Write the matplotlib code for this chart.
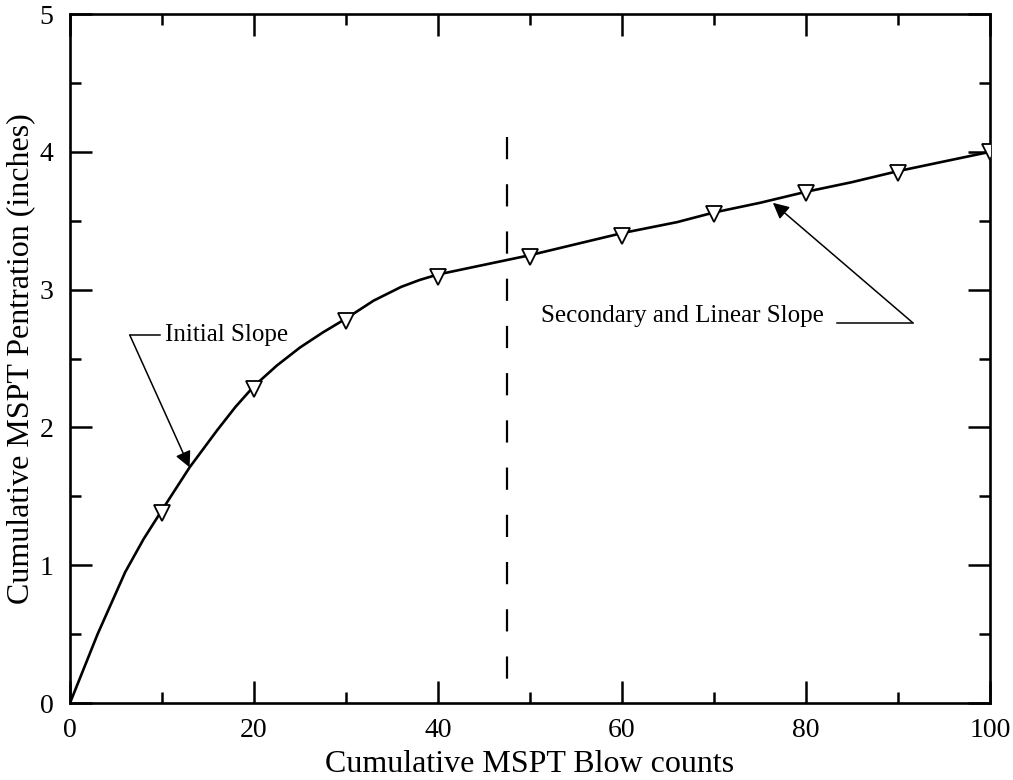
import numpy as np
import matplotlib
matplotlib.use("Agg")
import matplotlib.pyplot as plt
from matplotlib.ticker import MultipleLocator

# curve
blows = [0, 3, 6, 8, 10, 13, 16, 18, 20, 22.5, 25, 27.5, 30, 33, 36, 38, 40, 45, 50,
         55, 60, 66, 70, 75, 80, 85, 90, 95, 100]
penetration = [0, 0.50, 0.95, 1.19, 1.40, 1.71, 1.98, 2.15, 2.30, 2.45, 2.58, 2.69, 2.79,
               2.92, 3.02, 3.07, 3.11, 3.18, 3.25, 3.33, 3.41, 3.49, 3.56, 3.63, 3.71,
               3.78, 3.86, 3.93, 4.0]

# measured points (markers)
marker_blows = [10, 20, 30, 40, 50, 60, 70, 80, 90, 100]
marker_pen = [1.38, 2.28, 2.77, 3.09, 3.24, 3.39, 3.55, 3.70, 3.85, 4.0]

split_x = 47.5
split_top = 4.11

plt.rcParams['font.family'] = ['Liberation Serif', 'DejaVu Serif']
plt.rcParams['lines.scale_dashes'] = False

fig = plt.figure(figsize=(10.13, 7.80), dpi=100)
ax = fig.add_axes([0.0691, 0.0987, 0.9082, 0.8833])

ax.plot(blows, penetration, color='black', lw=1.9, zorder=3)
ax.plot(marker_blows, marker_pen, ls='none', marker='v', ms=12, mfc='white',
        mec='black', mew=1.3, zorder=4)

# draw from the top so the dash pattern starts there
ax.plot([split_x, split_x], [split_top, 0], color='black', lw=1.6,
        dashes=(16, 18), zorder=2)

# Initial slope callout
ax.plot([6.5, 9.8], [2.67, 2.67], color='black', lw=1.1)
ax.annotate('', xy=(13.0, 1.71), xytext=(6.5, 2.67),
            arrowprops=dict(arrowstyle='-|>', color='black', lw=1.1,
                            mutation_scale=24, shrinkA=0, shrinkB=0))
ax.text(10.3, 2.67, 'Initial Slope', fontsize=18, va='center', ha='left')

# Secondary slope callout
ax.plot([83.4, 91.6], [2.76, 2.76], color='black', lw=1.1)
ax.annotate('', xy=(76.4, 3.63), xytext=(91.6, 2.76),
            arrowprops=dict(arrowstyle='-|>', color='black', lw=1.1,
                            mutation_scale=24, shrinkA=0, shrinkB=0))
ax.text(51.2, 2.81, 'Secondary and Linear Slope', fontsize=18, va='center', ha='left')

ax.set_xlim(0, 100)
ax.set_ylim(0, 5)
ax.xaxis.set_major_locator(MultipleLocator(20))
ax.xaxis.set_minor_locator(MultipleLocator(10))
ax.yaxis.set_major_locator(MultipleLocator(1))
ax.yaxis.set_minor_locator(MultipleLocator(0.5))
ax.tick_params(which='both', direction='in', top=True, right=True, width=1.8,
               labelsize=20)
ax.tick_params(which='major', length=16)
ax.tick_params(axis='x', which='major', pad=11)
ax.tick_params(axis='y', which='major', pad=12)
ax.tick_params(which='minor', length=8)
for s in ax.spines.values():
    s.set_linewidth(1.9)

ax.set_xlabel('Cumulative MSPT Blow counts', fontsize=23, labelpad=5)
ax.set_ylabel('Cumulative MSPT Pentration (inches)', fontsize=23, labelpad=3)

fig.savefig('out.png', dpi=100)
